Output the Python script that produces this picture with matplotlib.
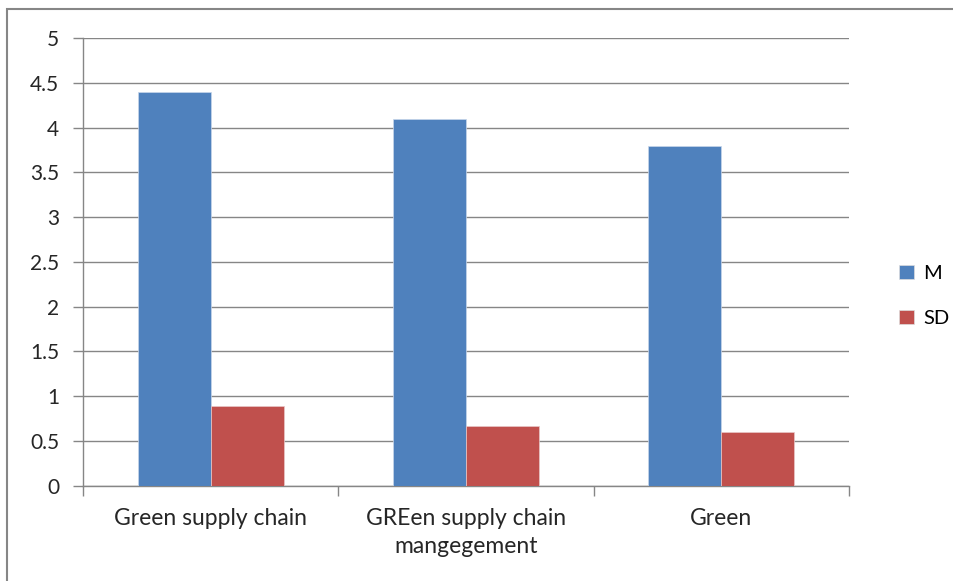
import numpy as np
import matplotlib.pyplot as plt
from matplotlib.patches import Rectangle, Patch

categories = ["Green supply chain", "GREen supply chain\nmangegement", "Green"]
m_values = [4.4, 4.1, 3.8]
sd_values = [0.89, 0.66, 0.6]
series_names = ["M", "SD"]
colors = ["#4F81BD", "#C0504D"]

plt.rcParams['font.family'] = ['Lato', 'DejaVu Sans']

fig = plt.figure(figsize=(9.54, 5.81), dpi=100)
ax = fig.add_axes([83 / 954, 1 - 485.5 / 581, (849 - 83) / 954, (485.5 - 38.3) / 581])

# outer chart border (right and bottom cut off in reference)
fig.patches.append(Rectangle((7 / 954, -0.1), 1.1, 1 - 9 / 581 + 0.1,
                             transform=fig.transFigure, fill=False,
                             edgecolor="#868686", linewidth=1.5))

x = np.arange(len(categories))
w = 1 / 3.5
ax.bar(x - w / 2, m_values, w, color=colors[0], edgecolor="#c8d6ea", linewidth=0.5, zorder=3)
ax.bar(x + w / 2, sd_values, w, color=colors[1], edgecolor="#e8c8c8", linewidth=0.5, zorder=3)

ax.set_xlim(-0.5, len(categories) - 0.5)
ax.set_ylim(0, 5)
ax.set_yticks(np.arange(0, 5.01, 0.5))
ax.set_yticklabels(["0", "0.5", "1", "1.5", "2", "2.5", "3", "3.5", "4", "4.5", "5"])
ax.yaxis.grid(True, color="#868686", linewidth=1)
ax.set_axisbelow(True)

ax.set_xticks(x)
ax.set_xticklabels(categories, fontsize=16.5, color="#262626", linespacing=1.45)
ax.set_xticks(np.arange(-0.5, len(categories), 1), minor=True)
ax.tick_params(axis="x", which="major", length=0, pad=16)
ax.tick_params(axis="x", which="minor", length=7, color="#868686", width=1)
ax.tick_params(axis="y", length=7, color="#868686", width=1, pad=10,
               labelsize=15, labelcolor="#262626")

for s in ["top", "right"]:
    ax.spines[s].set_visible(False)
for s in ["left", "bottom"]:
    ax.spines[s].set_color("#868686")
    ax.spines[s].set_linewidth(1)

handles = [Patch(facecolor=c, edgecolor="#dddddd", linewidth=0.5) for c in colors]
fig.legend(handles, series_names, loc="center left", bbox_to_anchor=(889 / 954, 1 - 296 / 581),
           frameon=False, fontsize=14.5, handlelength=0.75, handleheight=0.7,
           handletextpad=0.45, labelspacing=1.4, borderpad=0)

fig.savefig("out.png", dpi=100)
